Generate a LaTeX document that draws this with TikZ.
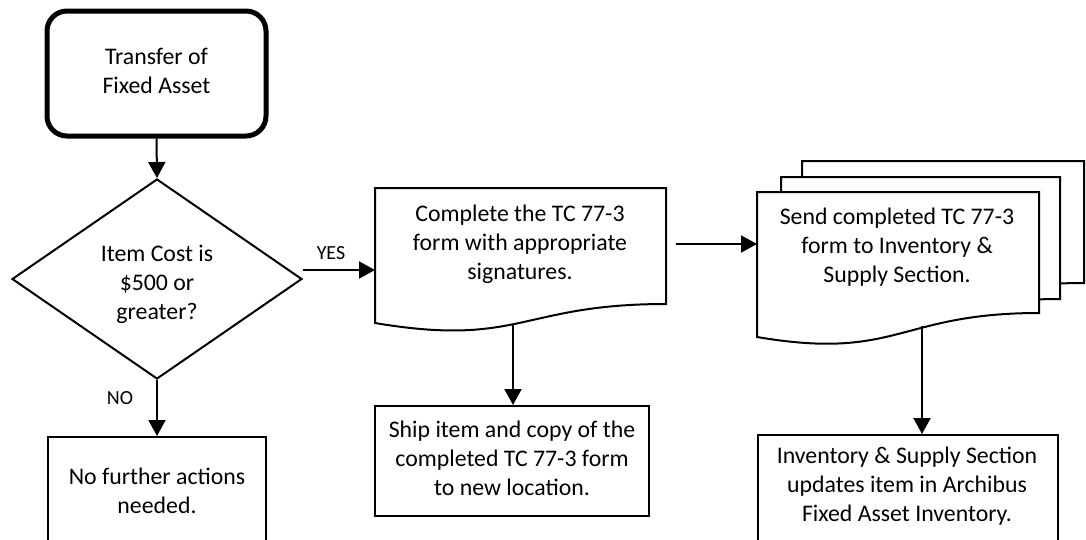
\documentclass[tikz,border=0pt]{standalone}
\usepackage{fontspec}
\setmainfont{Carlito}
\usetikzlibrary{arrows.meta,shapes.geometric}
\begin{document}
\begin{tikzpicture}[x=1pt,y=-1pt,
  every node/.style={font=\fontsize{23.8}{29}\selectfont, align=center},
  box/.style={draw, line width=2pt, inner sep=0pt},
  lbl/.style={font=\fontsize{20}{24}\selectfont},
  arr/.style={line width=2pt, -{Triangle[length=16pt,width=17pt]}},
  docshape/.style={draw, line width=2pt, fill=white, line join=miter}]
\useasboundingbox (0,0) rectangle (1086,539);

% start terminal
\node[draw, line width=5pt, rounded corners=20pt, minimum width=219pt, minimum height=125pt] (start) at (156.5,73.5) {};
\node (startt) at (156.5,70.5) {Transfer of\\Fixed Asset};

% decision
\node[diamond, draw, line width=2pt, aspect=1.45, minimum width=290pt, minimum height=200pt, inner sep=0pt] (dia) at (157,279) {};
\node (diat) at (157,284) {Item Cost is\\\$500 or\\greater?};

% no further actions
\node[box, minimum width=218pt, minimum height=140pt, anchor=north] (nof) at (157,436) {};
\node (noft) at (157,491) {No further actions\\needed.};

% document 1
\draw[docshape] (375,188) -- (666,188) -- (666,304) .. controls (520.5,304) and (520.5,347.5) .. (375,323) -- cycle;
\node (doc1) at (520,244) {Complete the TC 77-3\\form with appropriate\\signatures.};
\coordinate (d1b) at (513,325);
\coordinate (d1r) at (676,244);
\coordinate (d1l) at (375,269);

% ship
\node[box, minimum width=274pt, minimum height=110pt] (ship) at (512,461) {};
\node (shipt) at (512,458) {Ship item and copy of the\\completed TC 77-3 form\\to new location.};

% multi-document
\draw[docshape] (802,161) -- (1084,161) -- (1084,283) .. controls (943,283) and (943,331) .. (802,307) -- cycle;
\draw[docshape] (781,177) -- (1060,177) -- (1060,299) .. controls (920.5,299) and (920.5,347) .. (781,323) -- cycle;
\draw[docshape] (757,192) -- (1039,192) -- (1039,313) .. controls (898,313) and (898,361) .. (757,337) -- cycle;
\node (doc2) at (897,247) {Send completed TC 77-3\\form to Inventory \&\\Supply Section.};
\coordinate (d2l) at (757,244);
\coordinate (d2b) at (922,326);

% inventory update
\node[box, minimum width=300pt, minimum height=140pt, anchor=north] (inv) at (908,434) {};
\node (invt) at (907,486) {Inventory \& Supply Section\\updates item in Archibus\\Fixed Asset Inventory.};

% connectors
\draw[arr] (start.south) -- (dia.north);
\coordinate (yes0) at ([yshift=9pt]dia.east);
\draw[arr] (yes0) -- (yes0 -| d1l);
\node[lbl] (yes) at (331,253) {YES};
\draw[arr] (dia.south) -- (nof.north);
\node[lbl] (no) at (120,398) {NO};
\draw[arr] (d1b) -- (d1b |- ship.north);
\draw[arr] (d1r) -- (d2l);
\draw[arr] (d2b) -- (d2b |- inv.north);
\end{tikzpicture}
\end{document}
